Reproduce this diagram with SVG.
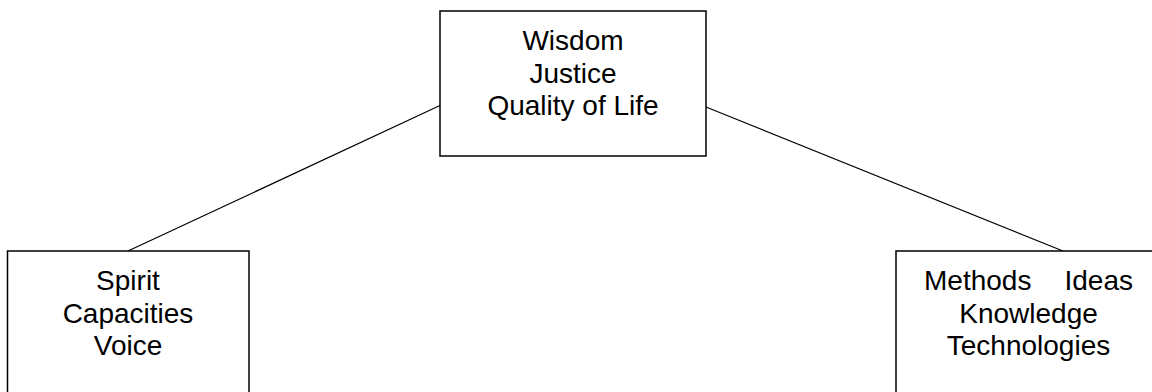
<svg xmlns="http://www.w3.org/2000/svg" width="1152" height="392" viewBox="0 0 1152 392">
<style>
.box{fill:#fff;stroke:#000;stroke-width:1.5}
.edge{stroke:#000;stroke-width:1.2;fill:none}
text{font-family:"Liberation Sans",Arial,sans-serif;font-size:28px;fill:#000;text-anchor:middle}
</style>
<rect width="1152" height="392" fill="#fff"/>
<g id="connectors">
<line class="edge" x1="441" y1="105" x2="128" y2="251"/>
<line class="edge" x1="706" y1="107" x2="1063" y2="251"/>
</g>
<g id="top">
<rect class="box" x="440" y="11" width="266" height="145"/>
<text x="573" y="50">Wisdom</text>
<text x="573" y="82.7">Justice</text>
<text x="573" y="115">Quality of Life</text>
</g>
<g id="left">
<rect class="box" x="7.5" y="251" width="241.5" height="160"/>
<text x="128" y="290">Spirit</text>
<text x="128" y="322.7">Capacities</text>
<text x="128" y="355">Voice</text>
</g>
<g id="right">
<rect class="box" x="896" y="251" width="265" height="160"/>
<text y="290"><tspan x="924" text-anchor="start">Methods</tspan><tspan x="1133" text-anchor="end">Ideas</tspan></text>
<text x="1028.5" y="322.7">Knowledge</text>
<text x="1028.5" y="355">Technologies</text>
</g>
</svg>
